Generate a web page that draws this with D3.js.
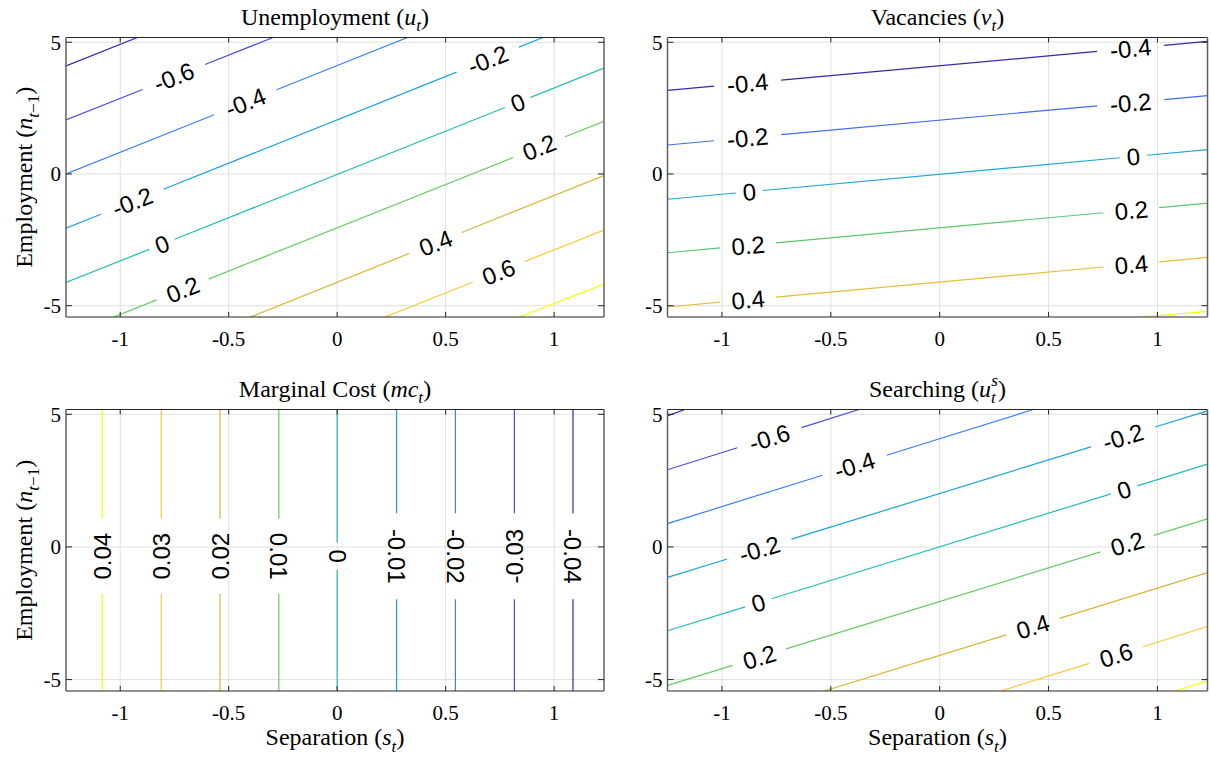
<!DOCTYPE html>
<html>
<head>
<meta charset="utf-8">
<script src="https://d3js.org/d3.v7.min.js"></script>
<style>
body { margin: 0; background: #fff; }
svg text { font-family: "Liberation Serif", "Times New Roman", serif; fill: #000; }
svg text.clab { font-family: "Liberation Sans", Arial, sans-serif; font-size: 24px; }
</style>
</head>
<body>
<svg id="fig" width="1211" height="761"></svg>
<script>
// shared axes
var sTicks = [-1, -0.5, 0, 0.5, 1];
var nTicks = [-5, 0, 5];
var sRange = [-1.25, 1.23];
var nRange = [-5.43, 5.18];

// Unemployment u_t : contour segments are [s0, n0, s1, n1], labels are [level, s]
var uLevels = [-0.8, -0.6, -0.4, -0.2, 0, 0.2, 0.4, 0.6, 0.8];
var uLines = [
    [-1.25, 4.10, -0.915, 5.2],
    [-1.25, 2.05, -0.29, 5.2],
    [-1.25, 0.0, 0.33, 5.2],
    [-1.25, -2.06, 0.955, 5.2],
    [-1.25, -4.12, 1.23, 4.02],
    [-1.03, -5.43, 1.23, 2.0],
    [-0.40, -5.43, 1.23, -0.06],
    [0.22, -5.43, 1.23, -2.13],
    [0.84, -5.43, 1.23, -4.18]
];
var uLabels = [[-0.6, -0.753], [-0.4, -0.423], [-0.2, 0.694], [0, 0.832], [0.2, 0.931],
               [-0.2, -0.945], [0, -0.808], [0.2, -0.712], [0.4, 0.454], [0.6, 0.744]];

// Vacancies v_t
var vLevels = [-0.4, -0.2, 0, 0.2, 0.4, 0.6];
var vLines = [
    [-1.25, 3.17, 1.23, 5.03],
    [-1.25, 1.10, 1.23, 2.97],
    [-1.25, -0.96, 1.23, 0.92],
    [-1.25, -2.99, 1.23, -1.11],
    [-1.25, -5.05, 1.23, -3.17],
    [0.93, -5.43, 1.23, -5.22]
];
var vLabels = [[-0.4, -0.882], [-0.2, -0.882], [0, -0.874], [0.2, -0.88], [0.4, -0.88],
               [-0.4, 0.877], [-0.2, 0.877], [0, 0.89], [0.2, 0.88], [0.4, 0.88]];

// Marginal cost mc_t : labels are [level, n]
var mcLevels = [0.04, 0.03, 0.02, 0.01, 0, -0.01, -0.02, -0.03, -0.04];
var mcLines = [
    [-1.083, -5.43, -1.083, 5.18],
    [-0.811, -5.43, -0.811, 5.18],
    [-0.54, -5.43, -0.54, 5.18],
    [-0.269, 5.18, -0.269, -5.43],
    [0, 5.18, 0, -5.43],
    [0.274, 5.18, 0.274, -5.43],
    [0.545, 5.18, 0.545, -5.43],
    [0.817, -5.43, 0.817, 5.18],
    [1.087, 5.18, 1.087, -5.43]
];
var mcLabels = [[0.04, -0.35], [0.03, -0.35], [0.02, -0.35], [0.01, -0.35], [0, -0.35],
                [-0.01, -0.35], [-0.02, -0.35], [-0.03, -0.35], [-0.04, -0.35]];

// Searching u_t^s
var usLevels = [-0.8, -0.6, -0.4, -0.2, 0, 0.2, 0.4, 0.6, 0.8];
var usLines = [
    [-1.25, 4.94, -1.17, 5.18],
    [-1.25, 2.91, -0.37, 5.18],
    [-1.25, 0.88, 0.43, 5.18],
    [-1.25, -1.15, 1.23, 5.13],
    [-1.25, -3.16, 1.23, 3.12],
    [-1.25, -5.22, 1.23, 1.06],
    [-0.53, -5.43, 1.23, -0.97],
    [0.28, -5.43, 1.23, -3.00],
    [1.08, -5.43, 1.23, -5.05]
];
var usLabels = [[-0.6, -0.782], [-0.4, -0.391], [-0.2, -0.828], [0, -0.833], [0.2, -0.828],
                [-0.2, 0.842], [0, 0.847], [0.2, 0.861], [0.4, 0.428], [0.6, 0.81]];

// parula-ish colour map
var parulaStops = [0, 0.125, 0.25, 0.375, 0.5, 0.625, 0.75, 0.875, 1];
var parulaColors = ["#3e26a8", "#4a4ce8", "#3a80f5", "#1ba2e0", "#22bdb5",
                    "#67cb63", "#d6b835", "#fdc83a", "#f9fb0e"];

var svg = d3.select("#fig");

// write text made of plain / italic / sub / sup pieces
function richText(sel, parts, size) {
    var shift = 0;
    parts.forEach(function(p) {
        var target = p.sub ? 0.28 * size : (p.sup ? -0.42 * size : 0);
        var ts = sel.append("tspan").text(p.t)
            .attr("dy", target - shift)
            .attr("font-size", (p.sub || p.sup) ? size * 0.72 : size);
        if (p.i) ts.attr("font-style", "italic");
        if (p.dx) ts.attr("dx", p.dx);
        shift = target;
    });
}

function drawPanel(p) {
    var g = svg.append("g").attr("transform", "translate(" + p.x + "," + p.y + ")");
    var x = d3.scaleLinear().domain(sRange).range([0, p.w]);
    var y = d3.scaleLinear().domain(nRange).range([p.h, 0]);
    var color = d3.scaleLinear()
        .domain(parulaStops.map(function(t) { return p.clim[0] + t * (p.clim[1] - p.clim[0]); }))
        .range(parulaColors).clamp(true);

    // grid
    g.selectAll(".gx").data(sTicks).join("line")
        .attr("x1", d => x(d)).attr("x2", d => x(d)).attr("y1", 0).attr("y2", p.h)
        .attr("stroke", "#e0e0e0").attr("stroke-width", 1);
    g.selectAll(".gy").data(nTicks).join("line")
        .attr("y1", d => y(d)).attr("y2", d => y(d)).attr("x1", 0).attr("x2", p.w)
        .attr("stroke", "#e0e0e0").attr("stroke-width", 1);

    var cid = "clip" + p.id;
    g.append("clipPath").attr("id", cid).append("rect").attr("width", p.w).attr("height", p.h);
    var plot = g.append("g").attr("clip-path", "url(#" + cid + ")");
    var labLayer = g.append("g");

    p.levels.forEach(function(lv, i) {
        var seg = p.lines[i];
        var x0 = x(seg[0]), y0 = y(seg[1]), x1 = x(seg[2]), y1 = y(seg[3]);
        var len = Math.hypot(x1 - x0, y1 - y0);
        var ang = Math.atan2(y1 - y0, x1 - x0) * 180 / Math.PI;
        if (ang > 90) ang -= 180;
        if (ang < -90) ang += 180;
        var cuts = [];
        p.labels.filter(function(l) { return l[0] === lv; }).forEach(function(l) {
            var t = p.labelAxis === "n" ? (l[1] - seg[1]) / (seg[3] - seg[1])
                                        : (l[1] - seg[0]) / (seg[2] - seg[0]);
            var cx = x0 + t * (x1 - x0), cy = y0 + t * (y1 - y0);
            var lbl = labLayer.append("text").attr("class", "clab")
                .attr("transform", "translate(" + cx + "," + cy + ") rotate(" + ang + ")")
                .attr("text-anchor", "middle").attr("dy", "0.36em")
                .text(String(lv));
            var tw = lbl.node().getComputedTextLength();
            var half = (1.42 * tw + 8.5) / 2 / len;
            cuts.push([t - half, t + half]);
        });
        cuts.sort(function(a, b) { return a[0] - b[0]; });
        var d = "", start = 0;
        function piece(a, b) {
            return "M" + (x0 + a * (x1 - x0)) + "," + (y0 + a * (y1 - y0)) +
                   "L" + (x0 + b * (x1 - x0)) + "," + (y0 + b * (y1 - y0));
        }
        cuts.forEach(function(c) {
            if (c[0] > start) d += piece(start, c[0]);
            start = Math.max(start, c[1]);
        });
        if (start < 1) d += piece(start, 1);
        plot.append("path").attr("d", d).attr("fill", "none")
            .attr("stroke", color(lv)).attr("stroke-width", 1.2);
    });

    // box
    g.append("line").attr("x1", 0).attr("x2", p.w).attr("y1", 0).attr("y2", 0)
        .attr("stroke", "#262626").attr("stroke-width", 1.2);
    g.append("line").attr("x1", 0).attr("x2", p.w).attr("y1", p.h).attr("y2", p.h)
        .attr("stroke", "#262626").attr("stroke-width", 1.2);
    g.append("line").attr("x1", 0).attr("x2", 0).attr("y1", 0).attr("y2", p.h)
        .attr("stroke", "#606060").attr("stroke-width", 1.5);
    g.append("line").attr("x1", p.w).attr("x2", p.w).attr("y1", 0).attr("y2", p.h)
        .attr("stroke", "#606060").attr("stroke-width", 1.5);

    // ticks (inward, all four sides)
    sTicks.forEach(function(t) {
        g.append("line").attr("x1", x(t)).attr("x2", x(t)).attr("y1", p.h).attr("y2", p.h - 5)
            .attr("stroke", "#262626");
        g.append("line").attr("x1", x(t)).attr("x2", x(t)).attr("y1", 0).attr("y2", 5)
            .attr("stroke", "#262626");
        g.append("text").attr("x", x(t)).attr("y", p.h + 29).attr("text-anchor", "middle")
            .attr("font-size", 21).text(String(t));
    });
    nTicks.forEach(function(t) {
        g.append("line").attr("x1", 0).attr("x2", 6).attr("y1", y(t)).attr("y2", y(t))
            .attr("stroke", "#262626");
        g.append("line").attr("x1", p.w).attr("x2", p.w - 6).attr("y1", y(t)).attr("y2", y(t))
            .attr("stroke", "#262626");
        g.append("text").attr("x", -5).attr("y", y(t) + 7.5).attr("text-anchor", "end")
            .attr("font-size", 21).text(String(t));
    });

    // title
    richText(g.append("text").attr("x", p.w / 2).attr("y", -13).attr("text-anchor", "middle"),
             p.title, 24);

    if (p.yLabel) {
        richText(g.append("text").attr("text-anchor", "middle")
                    .attr("transform", "translate(-34," + (p.h / 2) + ") rotate(-90)"),
                 [{t: "Employment ("}, {t: "n", i: 1}, {t: "t", i: 1, sub: 1},
                  {t: "\u22121", sub: 1}, {t: ")"}], 24);
    }
    if (p.xLabel) {
        richText(g.append("text").attr("x", p.w / 2).attr("y", p.h + 54).attr("text-anchor", "middle"),
                 [{t: "Separation ("}, {t: "s", i: 1}, {t: "t", i: 1, sub: 1}, {t: ")"}], 24);
    }
}

drawPanel({id: 1, x: 66, y: 37.5, w: 538, h: 279.5, clim: [-0.8, 0.8],
           levels: uLevels, lines: uLines, labels: uLabels, labelAxis: "s",
           title: [{t: "Unemployment ("}, {t: "u", i: 1}, {t: "t", i: 1, sub: 1}, {t: ")"}],
           yLabel: true, xLabel: false});
drawPanel({id: 2, x: 667.5, y: 37.5, w: 540, h: 279.5, clim: [-0.4, 0.6],
           levels: vLevels, lines: vLines, labels: vLabels, labelAxis: "s",
           title: [{t: "Vacancies ("}, {t: "v", i: 1}, {t: "t", i: 1, sub: 1}, {t: ")"}],
           yLabel: false, xLabel: false});
drawPanel({id: 3, x: 66, y: 409.5, w: 538, h: 281.5, clim: [-0.04, 0.04],
           levels: mcLevels, lines: mcLines, labels: mcLabels, labelAxis: "n",
           title: [{t: "Marginal Cost ("}, {t: "mc", i: 1}, {t: "t", i: 1, sub: 1}, {t: ")"}],
           yLabel: true, xLabel: true});
drawPanel({id: 4, x: 667.5, y: 409.5, w: 540, h: 281.5, clim: [-0.8, 0.8],
           levels: usLevels, lines: usLines, labels: usLabels, labelAxis: "s",
           title: [{t: "Searching ("}, {t: "u", i: 1}, {t: "t", i: 1, sub: 1},
                   {t: "s", i: 1, sup: 1, dx: -4.5}, {t: ")"}],
           yLabel: false, xLabel: true});
</script>
</body>
</html>
